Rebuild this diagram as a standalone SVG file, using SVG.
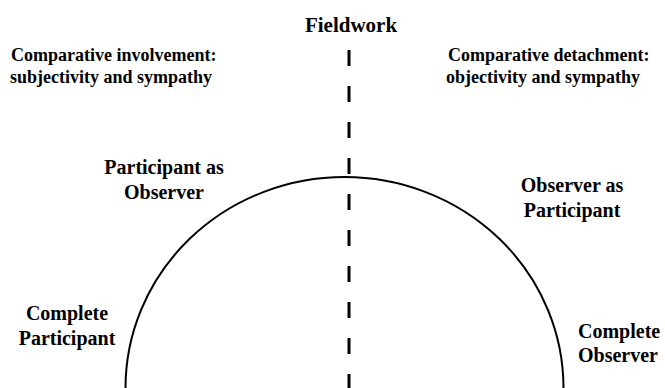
<svg xmlns="http://www.w3.org/2000/svg" width="665" height="388" viewBox="0 0 665 388">
<style>
text{font-family:"Liberation Serif","Times New Roman",serif;font-weight:bold;fill:#000}
.h{font-size:18px}
.l{font-size:20px}
.c{text-anchor:middle}
</style>
<rect width="665" height="388" fill="#fff"/>
<g id="connectors">
<line x1="349" y1="50" x2="349" y2="390" stroke="#000" stroke-width="3" stroke-dasharray="16 20"/>
<path d="M125.5 388 A219 211 0 0 1 563.5 388" fill="none" stroke="#000" stroke-width="2"/>
</g>
<g id="fieldwork"><text x="351" y="32" class="c" style="font-size:21px">Fieldwork</text></g>
<g id="involvement"><text x="11" y="61" class="h">Comparative involvement:</text><text x="10" y="83" class="h">subjectivity and sympathy</text></g>
<g id="detachment"><text x="448" y="61" class="h">Comparative detachment:</text><text x="446" y="83" class="h">objectivity and sympathy</text></g>
<g id="participant-as-observer"><text x="164" y="174" class="l c">Participant as</text><text x="164" y="199" class="l c">Observer</text></g>
<g id="observer-as-participant"><text x="572" y="192" class="l c">Observer as</text><text x="572" y="217" class="l c">Participant</text></g>
<g id="complete-participant"><text x="67" y="320" class="l c">Complete</text><text x="67" y="345" class="l c">Participant</text></g>
<g id="complete-observer"><text x="578" y="338" class="l">Complete</text><text x="578" y="362" class="l">Observer</text></g>
</svg>
